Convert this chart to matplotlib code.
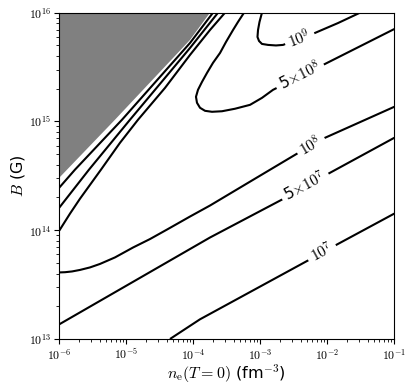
import numpy as np
import matplotlib
matplotlib.use("Agg")
import matplotlib.pyplot as plt
from matplotlib.patches import Polygon
from matplotlib.ticker import FuncFormatter, LogLocator

plt.rcParams['mathtext.fontset'] = 'cm'
plt.rcParams['font.family'] = ['DejaVu Sans']

# ---- data (log10 of n_e [fm^-3] and log10 of B [G]) ----
gray_lx = [-6.0, -6.0, -5.169, -4.049, -3.751]
gray_ly = [16.0, 14.483, 15.016, 15.750, 16.0]

# unlabeled contours close to the excluded (gray) region
l1_lx = [-6.0, -5.766, -5.064, -4.049, -3.706]
l1_ly = [14.392, 14.557, 15.016, 15.722, 16.0]
l2_lx = [-6.0, -5.557, -4.945, -4.049, -3.631]
l2_ly = [14.208, 14.557, 15.016, 15.676, 16.0]
l3_lx = [-6.0, -5.840, -5.691, -5.378, -5.094, -4.825, -4.422, -4.049, -3.751, -3.527]
l3_ly = [13.997, 14.153, 14.290, 14.557, 14.804, 15.016, 15.309, 15.612, 15.841, 16.0]

# labelled contours
c1e7_lx = [-4.348, -3.900, -2.288, -1.855, -1.0]
c1e7_ly = [13.0, 13.181, 13.722, 13.869, 14.153]
c5e7_lx = [-6.0, -3.751, -2.676, -1.957, -1.0]
c5e7_ly = [13.135, 13.933, 14.282, 14.529, 14.850]
c1e8_lx = [-6.0, -5.915, -5.810, -5.691, -5.542, -5.393, -5.169, -4.900, -4.646, -4.393,
           -4.049, -3.751, -3.079, -2.452, -2.034, -1.0]
c1e8_ly = [13.612, 13.614, 13.621, 13.635, 13.658, 13.690, 13.750, 13.841, 13.919, 14.006,
           14.126, 14.227, 14.474, 14.704, 14.850, 15.135]
c5e8_lx = [-3.243, -3.333, -3.407, -3.512, -3.601, -3.706, -3.795, -3.870, -3.930, -3.960,
           -3.945, -3.900, -3.825, -3.721, -3.572, -3.378, -3.153, -2.975, -2.810, -2.034, -1.0]
c5e8_ly = [16.0, 15.915, 15.841, 15.731, 15.630, 15.539, 15.447, 15.364, 15.291, 15.227,
           15.172, 15.126, 15.098, 15.089, 15.094, 15.117, 15.153, 15.217, 15.291, 15.529, 15.850]
c1e9_lx = [-2.975, -3.012, -3.034, -3.042, -3.019, -2.975, -2.885, -2.766, -2.661,
           -2.184, -1.840, -1.512]
c1e9_ly = [16.0, 15.915, 15.841, 15.777, 15.740, 15.713, 15.704, 15.699, 15.704,
           15.814, 15.905, 16.0]

label_texts = [r'$10^7$', r'5$\times10^7$', r'$10^8$', r'5$\times10^8$', r'$10^9$']
label_lx = [-2.08, -2.333, -2.243, -2.407, -2.41]
label_ly = [13.795, 14.408, 14.777, 15.419, 15.759]

xtick_exp = [-6, -5, -4, -3, -2, -1]
ytick_exp = [13, 14, 15, 16]

# ---- figure ----
fig = plt.figure(figsize=(4.15, 3.9), dpi=100)
ax = fig.add_axes([0.1429, 0.1308, 0.8072, 0.8366])
ax.set_xscale('log')
ax.set_yscale('log')
ax.set_xlim(1e-6, 1e-1)
ax.set_ylim(1e13, 1e16)


def p10(a):
    return 10.0 ** np.asarray(a, dtype=float)


ax.add_patch(Polygon(np.column_stack([p10(gray_lx), p10(gray_ly)]),
                     closed=True, facecolor='#808080', edgecolor='none', zorder=1))

lines = [(l1_lx, l1_ly), (l2_lx, l2_ly), (l3_lx, l3_ly),
         (c1e7_lx, c1e7_ly), (c5e7_lx, c5e7_ly), (c1e8_lx, c1e8_ly),
         (c5e8_lx, c5e8_ly), (c1e9_lx, c1e9_ly)]
for lx, ly in lines:
    ax.plot(p10(lx), p10(ly), color='black', lw=1.5, zorder=2,
            solid_joinstyle='round', solid_capstyle='butt')

ax.set_xticks(p10(xtick_exp))
ax.set_yticks(p10(ytick_exp))
fmt = FuncFormatter(lambda v, pos: r'$10^{%d}$' % int(round(np.log10(v))))
ax.xaxis.set_major_formatter(fmt)
ax.yaxis.set_major_formatter(fmt)
ax.xaxis.set_minor_locator(LogLocator(base=10, subs=np.arange(2, 10), numticks=20))
ax.yaxis.set_minor_locator(LogLocator(base=10, subs=np.arange(2, 10), numticks=20))
ax.tick_params(axis='both', which='major', labelsize=8.5, length=3.5, pad=2.5)
ax.tick_params(axis='both', which='minor', length=2)

labelled = lines[3:]
fig.canvas.draw()
for (lx, ly), txt, tx, ty in zip(labelled, label_texts, label_lx, label_ly):
    pts = ax.transData.transform(np.column_stack([p10(lx), p10(ly)]))
    c = ax.transData.transform((10 ** tx, 10 ** ty))
    d = np.hypot(pts[:, 0] - c[0], pts[:, 1] - c[1])
    i = int(np.argmin(d))
    j0, j1 = max(i - 1, 0), min(i + 1, len(pts) - 1)
    ang = np.degrees(np.arctan2(pts[j1, 1] - pts[j0, 1], pts[j1, 0] - pts[j0, 0]))
    ax.text(10 ** tx, 10 ** ty, txt, rotation=ang, rotation_mode='anchor',
            ha='center', va='center', fontsize=11, zorder=3,
            bbox=dict(facecolor='white', edgecolor='none', pad=3))

ax.set_xlabel(r'$n_{\rm e}(T=0)$ (fm$^{-3}$)', fontsize=11.5, labelpad=0.3)
ax.set_ylabel(r'$B$ (G)', fontsize=11.5, labelpad=1)

fig.savefig('out.png', dpi=100)
